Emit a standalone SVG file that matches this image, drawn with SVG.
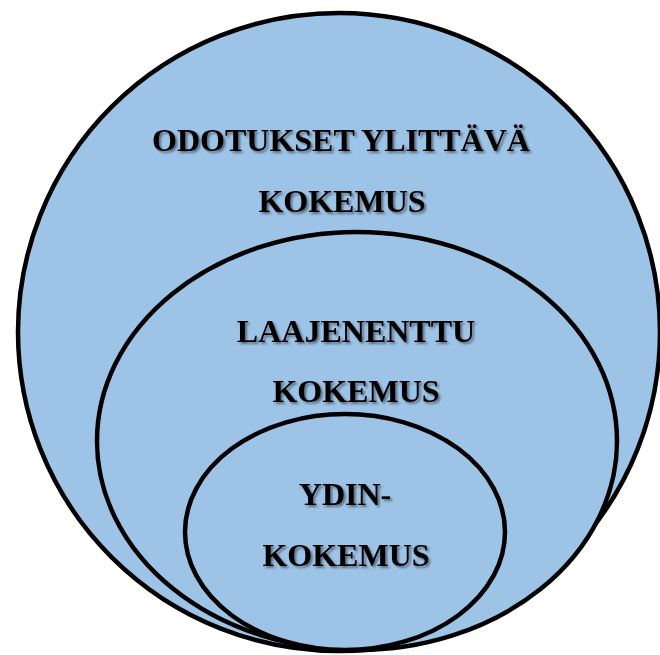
<svg xmlns="http://www.w3.org/2000/svg" width="660" height="655" viewBox="0 0 660 655">
<defs>
<filter id="sh" x="-10%" y="-20%" width="120%" height="150%">
<feGaussianBlur in="SourceAlpha" stdDeviation="1"/>
<feOffset dx="1.5" dy="2" result="b"/>
<feFlood flood-color="#000" flood-opacity="0.45"/>
<feComposite in2="b" operator="in" result="s"/>
<feMerge><feMergeNode in="s"/><feMergeNode in="SourceGraphic"/></feMerge>
</filter>
</defs>
<style>
.e{fill:#9dc3e6;stroke:#000;stroke-width:4.5}
.t{font-family:"Liberation Serif","Times New Roman",serif;font-weight:bold;font-size:32px;fill:#000;text-anchor:middle;filter:url(#sh)}
</style>
<rect width="660" height="655" fill="#fff"/>
<g id="outer">
<ellipse class="e" cx="339" cy="332" rx="321" ry="319"/>
<text class="t" x="341" y="151">ODOTUKSET YLITTÄVÄ</text>
<text class="t" x="342" y="212">KOKEMUS</text>
</g>
<g id="middle">
<ellipse class="e" cx="357" cy="441" rx="260" ry="209"/>
<text class="t" x="356" y="342">LAAJENENTTU</text>
<text class="t" x="356" y="402">KOKEMUS</text>
</g>
<g id="inner">
<ellipse class="e" cx="345" cy="532" rx="160" ry="118"/>
<text class="t" x="345" y="505">YDIN-</text>
<text class="t" x="346" y="566">KOKEMUS</text>
</g>
<g id="connectors"/>
</svg>
